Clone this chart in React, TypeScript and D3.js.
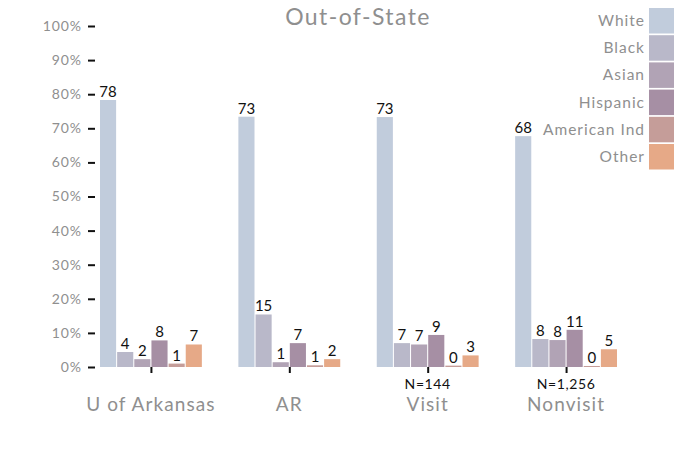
import { useEffect, useRef } from 'react';
import * as d3 from 'd3';

const groups = ['U of Arkansas', 'AR', 'Visit', 'Nonvisit'];
const groupN = ['', '', 'N=144', 'N=1,256'];
const series = ['White', 'Black', 'Asian', 'Hispanic', 'American Ind', 'Other'];
const colors = ['#c1ccdc', '#b9b8c9', '#b1a3b5', '#a68fa4', '#c59d99', '#e6a987'];

const white = [78.3, 73.4, 73.3, 67.7];
const black = [4.4, 15.4, 7.0, 8.2];
const asian = [2.3, 1.4, 6.6, 7.9];
const hispanic = [7.8, 7.0, 9.4, 10.9];
const amInd = [1.0, 0.5, 0.4, 0.3];
const other = [6.6, 2.3, 3.4, 5.2];
const yTicks = [0, 10, 20, 30, 40, 50, 60, 70, 80, 90, 100];

const values = [white, black, asian, hispanic, amInd, other];

function App() {
  const ref = useRef(null);

  useEffect(() => {
    const w = 700;
    const h = 450;
    const font = 'Lato, "Open Sans", sans-serif';
    const gray = '#8f8f8f';

    const svg = d3.select(ref.current).attr('width', w).attr('height', h);
    svg.selectAll('*').remove();

    const y = d3.scaleLinear().domain([0, 100]).range([367, 26]);
    const x0 = d3.scaleBand().domain(groups).range([100, 617]).paddingInner(0.264).paddingOuter(0);
    const x1 = d3.scaleBand().domain(series).range([0, x0.bandwidth()]).paddingInner(0.06).paddingOuter(0);

    // title
    svg
      .append('text')
      .attr('x', 358)
      .attr('y', 25)
      .attr('text-anchor', 'middle')
      .attr('font-family', font)
      .attr('font-size', 23)
      .attr('letter-spacing', 1.4)
      .attr('fill', gray)
      .text('Out-of-State');

    // y axis
    const ya = svg.append('g').attr('transform', 'translate(95,0)').call(
      d3
        .axisLeft(y)
        .tickValues(yTicks)
        .tickSize(7)
        .tickPadding(6)
        .tickFormat(d => d + '%')
    );
    ya.select('.domain').remove();
    ya.selectAll('line').attr('stroke', '#111').attr('stroke-width', 2);
    ya.selectAll('text')
      .attr('font-family', font)
      .attr('font-size', 14)
      .attr('letter-spacing', 0.9)
      .attr('fill', gray);

    // bars
    const rows = groups.map((g, gi) => series.map((s, si) => ({ g, s, si, v: values[si][gi] })));

    const gg = svg
      .selectAll('g.grp')
      .data(rows)
      .join('g')
      .attr('class', 'grp')
      .attr('transform', (d, i) => `translate(${x0(groups[i])},0)`);

    gg
      .selectAll('rect')
      .data(d => d)
      .join('rect')
      .attr('x', d => x1(d.s))
      .attr('y', d => y(d.v))
      .attr('width', x1.bandwidth())
      .attr('height', d => y(0) - y(d.v))
      .attr('fill', d => colors[d.si]);

    gg
      .selectAll('text.val')
      .data(d => d)
      .join('text')
      .attr('class', 'val')
      .attr('x', d => x1(d.s) + x1.bandwidth() / 2)
      .attr('y', d => y(d.v) - 3)
      .attr('text-anchor', 'middle')
      .attr('font-family', font)
      .attr('font-size', 15)
      .attr('fill', '#111')
      .text(d => d3.format('.0f')(d.v));

    // x axis
    const xa = svg.append('g').attr('transform', 'translate(0,367)').call(
      d3
        .axisBottom(d3.scalePoint().domain(groups).range([x0(groups[0]) + x0.bandwidth() / 2, x0(groups[3]) + x0.bandwidth() / 2]))
        .tickSize(6)
        .tickFormat(() => '')
    );
    xa.select('.domain').remove();
    xa.selectAll('line').attr('stroke', '#111').attr('stroke-width', 2);

    groups.forEach((g, i) => {
      const cx = x0(g) + x0.bandwidth() / 2;
      svg
        .append('text')
        .attr('x', cx)
        .attr('y', 411)
        .attr('text-anchor', 'middle')
        .attr('font-family', font)
        .attr('font-size', 19)
        .attr('letter-spacing', 1.1)
        .attr('fill', gray)
        .text(g);
      if (groupN[i]) {
        svg
          .append('text')
          .attr('x', cx)
          .attr('y', 389)
          .attr('text-anchor', 'middle')
          .attr('font-family', font)
          .attr('font-size', 14)
          .attr('letter-spacing', 0.6)
          .attr('fill', '#111')
          .text(groupN[i]);
      }
    });

    // legend
    const lg = svg
      .selectAll('g.leg')
      .data(series)
      .join('g')
      .attr('class', 'leg')
      .attr('transform', (d, i) => `translate(649,${8 + i * 27.2})`);
    lg.append('rect').attr('width', 25).attr('height', 25.5).attr('fill', (d, i) => colors[i]);
    lg
      .append('text')
      .attr('x', -4)
      .attr('y', 18)
      .attr('text-anchor', 'end')
      .attr('font-family', font)
      .attr('font-size', 15.5)
      .attr('letter-spacing', 1)
      .attr('fill', gray)
      .text(d => d);

    return () => svg.selectAll('*').remove();
  }, []);

  return <svg ref={ref} role="img" aria-label="Out-of-State" style={{ position: 'absolute', left: 0, top: 0 }} />;
}

export default App;
